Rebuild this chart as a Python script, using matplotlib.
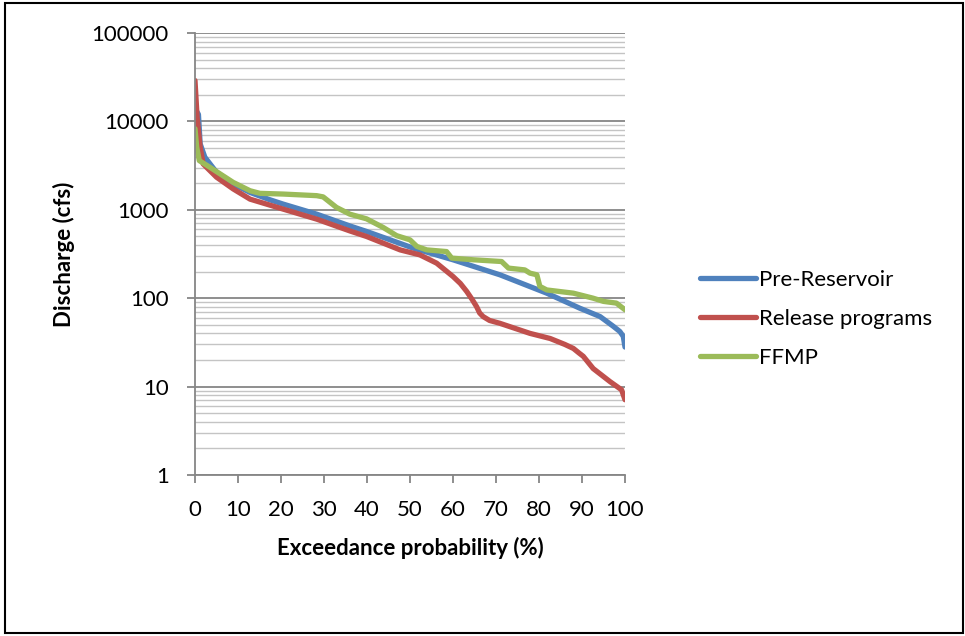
import numpy as np
import matplotlib.pyplot as plt
from matplotlib.patches import Rectangle
from matplotlib.ticker import LogLocator, FixedLocator, FuncFormatter

# Flow duration data (exceedance % , discharge cfs)
pre_x = [0, 0.8, 1.2, 2.3, 5, 8.9, 12.8, 17.4, 20.5, 28.3, 36, 39.9, 50.8, 60,
         70.9, 81.8, 89.5, 94.2, 97.3, 98.8, 99.6, 100]
pre_y = [14000, 12000, 5570, 3930, 2660, 1960, 1573, 1300, 1160, 893, 657, 569,
         368, 272, 184, 114, 77, 62, 48, 42, 37, 28]

rel_x = [0, 0.5, 1.2, 1.9, 5, 8.9, 12.8, 20.5, 28.3, 36, 39.9, 47.7, 52.3, 56.2,
         60, 61.7, 63.2, 64.5, 65.5, 66.2, 67, 68.5, 70.9, 77.9, 82.6, 86, 88,
         89.3, 90.3, 92.6, 96.5, 99.2, 100]
rel_y = [29000, 11000, 5100, 3300, 2340, 1720, 1320, 1018, 784, 577, 499, 352,
         309, 249, 176, 147, 119, 96, 80, 68, 62, 56, 52, 40, 35, 30, 27,
         24, 22, 16, 11.4, 9.2, 7.1]

ffmp_x = [0, 0.4, 1, 3.5, 8.9, 12.8, 15.1, 20.5, 28.3, 29.8, 32.9, 36, 39.9, 43.8,
          46.9, 50, 51.6, 53.9, 58.5, 59.7, 64.7, 71.3, 72.9, 76.7, 77.9, 79.5,
          80.2, 81.8, 88, 92.6, 95, 98, 100]
ffmp_y = [8260, 5100, 3600, 3020, 2040, 1643, 1535, 1507, 1445, 1400, 1064, 893,
          790, 630, 510, 457, 385, 352, 337, 284, 272, 260, 219, 209, 192, 184,
          136, 124, 114, 100, 92, 88, 74]

series = [
    ('Pre-Reservoir', pre_x, pre_y, '#4F81BD'),
    ('Release programs', rel_x, rel_y, '#C0504D'),
    ('FFMP', ffmp_x, ffmp_y, '#9BBB59'),
]

plt.rcParams['font.family'] = ['Lato', 'DejaVu Sans']
FS = 16

fig = plt.figure(figsize=(9.65, 6.36), dpi=100)
ax = fig.add_axes([195/965, 1 - 475/636, 430/965, 442/636])

for name, xs, ys, col in series:
    ax.plot(xs, ys, color=col, lw=3.8, label=name,
            solid_capstyle='round', solid_joinstyle='round')

ax.set_yscale('log')
ax.set_xlim(0, 100)
ax.set_ylim(1, 100000)
ax.set_xticks(np.arange(0, 101, 10))
ax.yaxis.set_major_locator(FixedLocator([1, 10, 100, 1000, 10000, 100000]))
ax.yaxis.set_minor_locator(LogLocator(base=10, subs=np.arange(2, 10)))
ax.yaxis.set_major_formatter(FuncFormatter(lambda v, p: '%d' % v))

ax.grid(True, which='major', axis='y', color='#868686', lw=1.3)
ax.grid(True, which='minor', axis='y', color='#C4C4C4', lw=1.0)
ax.set_axisbelow(True)

for s in ['top', 'right']:
    ax.spines[s].set_visible(False)
for s in ['left', 'bottom']:
    ax.spines[s].set_color('#868686')
    ax.spines[s].set_linewidth(1.3)

ax.tick_params(axis='both', which='major', direction='out', length=6,
               width=1.3, color='#868686', labelsize=FS, labelcolor='black')
ax.tick_params(axis='y', which='major', pad=13)
ax.tick_params(axis='x', which='major', pad=12)
ax.tick_params(axis='y', which='minor', length=0)

ax.set_xlabel('Exceedance probability (%)', fontsize=FS, fontweight='bold', labelpad=12)
ax.set_ylabel('Discharge (cfs)', fontsize=FS, fontweight='bold', labelpad=12)

fig.legend(loc='center left', bbox_to_anchor=(700/965, 1 - 319/636),
           frameon=False, fontsize=FS, handlelength=2.5, handletextpad=0.15,
           labelspacing=0.85, borderpad=0, borderaxespad=0)

# chart border
fig.patches.append(Rectangle((5/965, 3/636), 958/965, 630/636, transform=fig.transFigure,
                             fill=False, edgecolor='black', lw=1.5))

fig.savefig('out.png', dpi=100)
